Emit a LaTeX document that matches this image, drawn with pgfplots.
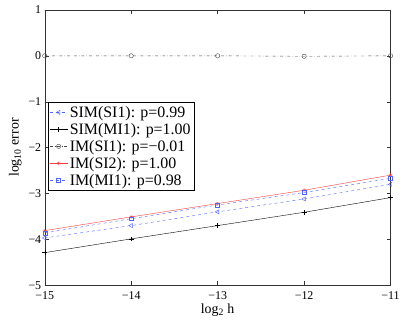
\documentclass[border=0pt]{standalone}
\usepackage{fontspec}
\setmainfont{Liberation Serif}
\usepackage{pgfplots}
\pgfplotsset{compat=1.18}
\definecolor{mblue}{RGB}{80,100,255}
\definecolor{mred}{RGB}{255,60,60}
\definecolor{mgray}{RGB}{70,70,70}

\begin{document}
\begin{tikzpicture}
\begin{axis}[
  name=ax,
  scale only axis,
  width=348pt, height=277pt,
  xmin=-15, xmax=-11, ymin=-5, ymax=1,
  xtick={-15,-14,-13,-12,-11},
  xticklabels={−15,−14,−13,−12,−11},
  ytick={-5,-4,-3,-2,-1,0,1},
  yticklabels={−5,−4,−3,−2,−1,0,1},
  tick align=inside, tick pos=both,
  major tick length=4pt,
  axis line style={black!80},
  every tick/.style={black!80},
  tick label style={font=\fontsize{12}{14}\selectfont},
  xticklabel style={yshift=-3pt},
  label style={font=\fontsize{14}{16}\selectfont},
  xlabel={log\textsubscript{2} h},
  ylabel={log\textsubscript{10} error},
  xlabel style={yshift=3pt},
  legend cell align=left,
  legend style={at={(0.009,0.664)}, anchor=north west, draw=black,
    font=\fontsize{16}{18}\selectfont, inner sep=1.5pt,
    row sep=0.5pt},
  legend image code/.code={
    \draw[mark repeat=2,mark phase=2,#1] plot coordinates {(0pt,0pt) (9pt,0pt) (18pt,0pt)};},
]
\addplot[mblue, thin, dashed, mark=triangle, mark options={rotate=90, solid, scale=1.2}]
  coordinates {(-15,-3.97) (-14,-3.70) (-13,-3.40) (-12,-3.12) (-11,-2.80)};
\addlegendentry{SIM(SI1): p=0.99}
\addplot[black, thin, mark=+, mark options={scale=1.2}]
  coordinates {(-15,-4.29) (-14,-3.99) (-13,-3.70) (-12,-3.41) (-11,-3.09)};
\addlegendentry{SIM(MI1): p=1.00}
\addplot[mgray, thin, dash dot, mark=o, mark options={solid, scale=1.1}]
  coordinates {(-15,0) (-14,0) (-13,0) (-12,-0.01) (-11,0)};
\addlegendentry{IM(SI1): p=−0.01}
\addplot[mred, thin, mark=asterisk, mark options={scale=0.9}]
  coordinates {(-15,-3.81) (-14,-3.51) (-13,-3.22) (-12,-2.93) (-11,-2.60)};
\addlegendentry{IM(SI2): p=1.00}
\addplot[mblue, thin, dashed, mark=square, mark options={solid, scale=1.0}]
  coordinates {(-15,-3.86) (-14,-3.55) (-13,-3.25) (-12,-2.98) (-11,-2.67)};
\addlegendentry{IM(MI1): p=0.98}
\end{axis}
\path (ax.south west) ++(-45pt,-36pt) coordinate (bl);
\path (ax.north east) ++(10pt,10pt) coordinate (tr);
\path (bl) rectangle (tr);
\end{tikzpicture}
\end{document}
